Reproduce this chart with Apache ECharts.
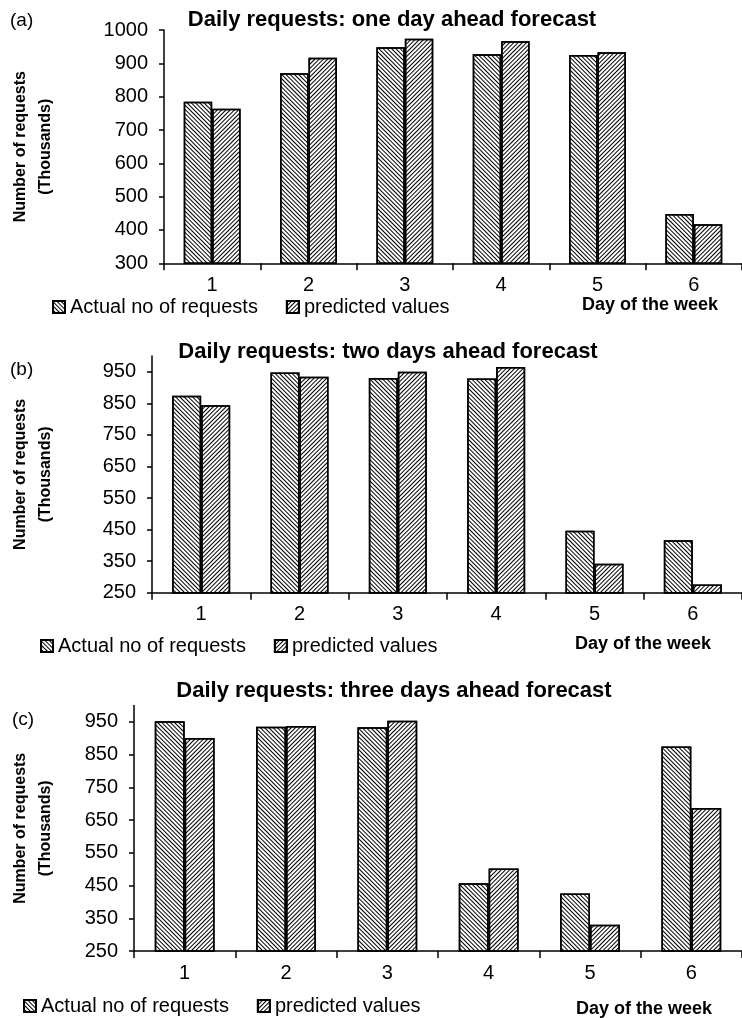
<!DOCTYPE html>
<html>
<head>
<meta charset="utf-8">
<script src="https://cdn.jsdelivr.net/npm/echarts@6/dist/echarts.min.js"></script>
<style>
html,body{margin:0;padding:0;background:#fff;}
#chart{width:742px;height:1018px;}
</style>
</head>
<body>
<div id="chart"></div>
<script>
// ---- data ----
const days = ['1', '2', '3', '4', '5', '6'];
const seriesNames = ['Actual no of requests', 'predicted values'];
const titles = [
  'Daily requests: one day ahead forecast',
  'Daily requests: two days ahead forecast',
  'Daily requests: three days ahead forecast'
];
const panelLabels = ['(a)', '(b)', '(c)'];
const actualA = [785, 870, 948, 927, 925, 448];
const predictedA = [764, 917, 974, 966, 933, 417];
const actualB = [874, 948, 930, 929, 446, 416];
const predictedB = [844, 934, 950, 965, 342, 276];
const actualC = [952, 935, 934, 457, 426, 875];
const predictedC = [901, 938, 954, 502, 330, 687];
const yTicksA = [300, 400, 500, 600, 700, 800, 900, 1000];
const yTicksBC = [250, 350, 450, 550, 650, 750, 850, 950];
const yRangeA = [300, 1000];
const yRangeBC = [250, 1000];
const yAxisName = 'Number of requests\n(Thousands)';
const xAxisName = 'Day of the week';

// ---- styles ----
const FONT = "'Liberation Sans', Arial, sans-serif";
const decalActual = { symbol: 'rect', symbolSize: 1, dashArrayX: [1, 0], dashArrayY: [0.9, 2], rotation: Math.PI / 4, color: '#000' };
const decalPred = { symbol: 'rect', symbolSize: 1, dashArrayX: [1, 0], dashArrayY: [0.8, 1.8], rotation: -Math.PI / 4, color: '#000' };

const panels = [
  { grid: { left: 164, top: 30, width: 578, height: 233.3 }, actual: actualA, pred: predictedA, ticks: yTicksA, range: yRangeA, titleX: 392, titleY: 9, nameGap: 106, legendLeft: 52, legendTop: 297, dayX: 650, dayY: 305, lblX: 10, lblY: 22 },
  { grid: { left: 148, top: 356, width: 594, height: 236.7 }, actual: actualB, pred: predictedB, ticks: yTicksBC, range: yRangeBC, titleX: 388, titleY: 341, nameGap: 94, legendLeft: 40, legendTop: 636, dayX: 643, dayY: 644, lblX: 10, lblY: 371 },
  { grid: { left: 132, top: 705.6, width: 610, height: 245.4 }, actual: actualC, pred: predictedC, ticks: yTicksBC, range: yRangeBC, titleX: 394, titleY: 680, nameGap: 76, legendLeft: 23, legendTop: 996, dayX: 644, dayY: 1009, lblX: 12, lblY: 721 }
];

const option = {
  backgroundColor: '#fff',
  animation: false,
  textStyle: { fontFamily: FONT, color: '#000' },
  title: [], grid: [], xAxis: [], yAxis: [], series: [], legend: [], graphic: []
};

panels.forEach((p, i) => {
  option.title.push({
    text: titles[i], left: p.titleX, top: p.titleY, textAlign: 'center', padding: 0,
    textStyle: { fontFamily: FONT, fontSize: 22, fontWeight: 'bold', color: '#000' }
  });
  option.grid.push(Object.assign({ containLabel: false }, p.grid));
  option.xAxis.push({
    type: 'category', gridIndex: i, data: days,
    axisLine: { lineStyle: { color: '#000', width: 1.5 } },
    axisTick: { show: true, length: 7, lineStyle: { color: '#000', width: 1.5 } },
    axisLabel: { fontFamily: FONT, fontSize: 20, color: '#000', margin: 12 },
    splitLine: { show: false }
  });
  option.yAxis.push({
    type: 'value', gridIndex: i, min: p.range[0], max: p.range[1],
    name: yAxisName, nameLocation: 'middle', nameRotate: 90, nameGap: p.nameGap,
    nameTextStyle: { fontFamily: FONT, fontSize: 16, fontWeight: 'bold', color: '#000', lineHeight: 25, align: 'center' },
    axisLine: { show: true, lineStyle: { color: '#000', width: 1.5 } },
    axisTick: { show: true, length: 5, customValues: p.ticks, lineStyle: { color: '#000', width: 1.5 } },
    axisLabel: { fontFamily: FONT, fontSize: 20, color: '#000', margin: 16, customValues: p.ticks, formatter: (v) => String(v) },
    splitLine: { show: false }
  });
  option.series.push({
    name: seriesNames[0], type: 'bar', xAxisIndex: i, yAxisIndex: i, data: p.actual,
    barGap: '0%', barCategoryGap: '41%',
    itemStyle: { color: '#fff', borderColor: '#000', borderWidth: 1.5, decal: decalActual }
  });
  option.series.push({
    name: seriesNames[1], type: 'bar', xAxisIndex: i, yAxisIndex: i, data: p.pred,
    barGap: '0%', barCategoryGap: '41%',
    itemStyle: { color: '#fff', borderColor: '#000', borderWidth: 1.5, decal: decalPred }
  });
  option.legend.push({
    data: seriesNames, left: p.legendLeft, top: p.legendTop, orient: 'horizontal',
    icon: 'rect', itemWidth: 12, itemHeight: 12, itemGap: 28, padding: 0,
    selectedMode: false,
    textStyle: { fontFamily: FONT, fontSize: 20, color: '#000', padding: [0, 0, 0, 0] }
  });
  option.graphic.push({
    type: 'text', left: p.lblX, top: p.lblY - 11,
    style: { text: panelLabels[i], font: "19px 'Liberation Sans', Arial, sans-serif", fill: '#000' }
  });
  option.graphic.push({
    type: 'text', x: p.dayX, y: p.dayY,
    style: { text: xAxisName, font: "bold 18px 'Liberation Sans', Arial, sans-serif", fill: '#000', align: 'center', verticalAlign: 'middle' }
  });
});

const chart = echarts.init(document.getElementById('chart'), null, { renderer: 'canvas' });
chart.setOption(option);
</script>
</body>
</html>
